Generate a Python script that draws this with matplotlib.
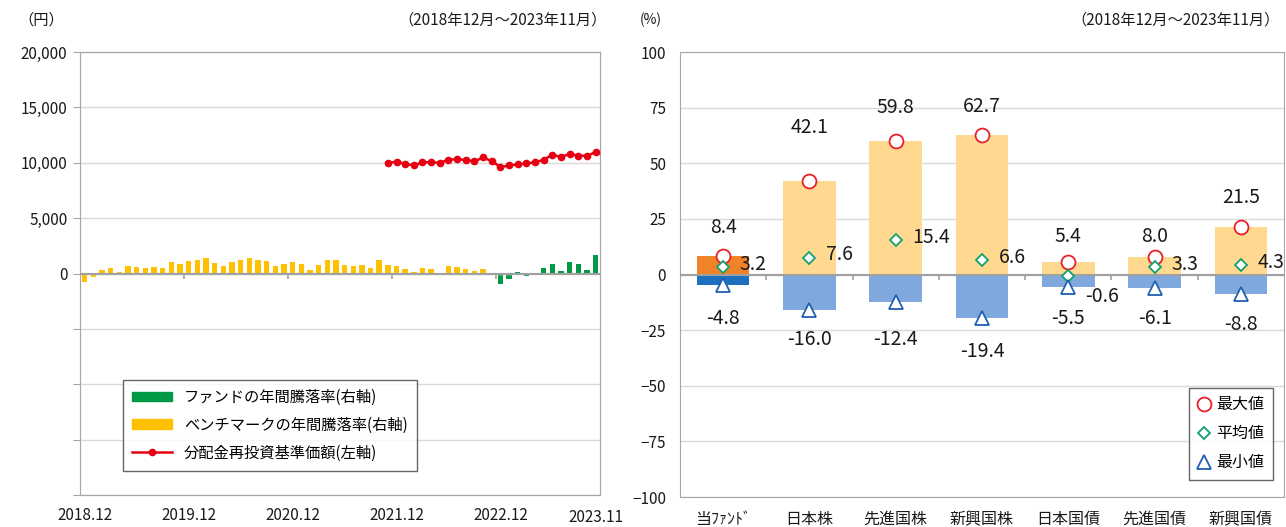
"""
Fund NAV and annual return chart, with return range by asset class
"""

import numpy as np
import matplotlib.pyplot as plt
from matplotlib.patches import Patch
from matplotlib.lines import Line2D
import matplotlib.transforms as mtransforms

plt.rcParams['font.family'] = ['Noto Sans CJK JP', 'DejaVu Sans']

# ---------------------------------------------------------------------------- #
# Data
# ---------------------------------------------------------------------------- #
n_months = 60
month_ticks = [0, 12, 24, 36, 48, 59]
month_labels = ['2018.12', '2019.12', '2020.12', '2021.12', '2022.12', '2023.11']

# benchmark annual return (%), months 0..46
bench_ret = [-3.9, -1.7, 1.8, 2.3, 0.9, 3.6, 3.0, 2.4, 3.0, 2.4,
             5.1, 4.2, 5.6, 6.2, 6.8, 4.8, 3.5, 5.3, 6.2, 6.9,
             5.9, 5.7, 3.5, 4.5, 5.0, 4.2, 1.7, 3.9, 6.0, 5.9,
             3.9, 3.6, 3.8, 2.6, 6.2, 3.9, 3.6, 2.0, 0.9, 2.4,
             2.0, 0.1, 3.5, 2.9, 2.0, 1.1, 2.1]
# fund annual return (%), months 47..59
fund_ret = [0.45, -4.8, -2.3, 0.8, -1.2, -0.7, 2.4, 4.2, 1.2, 5.1, 4.5, 1.4, 8.4]
# NAV with reinvested distributions (yen), months 35..59
nav = [10000, 10090, 9910, 9760, 10030, 10060, 10000, 10270, 10330, 10240,
       10120, 10480, 10150, 9610, 9760, 9850, 9940, 10030, 10270, 10720,
       10510, 10810, 10630, 10630, 10960]

categories = ['当ﾌｧﾝﾄﾞ', '日本株', '先進国株', '新興国株', '日本国債', '先進国債', '新興国債']
max_vals = [8.4, 42.1, 59.8, 62.7, 5.4, 8.0, 21.5]
avg_vals = [3.2, 7.6, 15.4, 6.6, -0.6, 3.3, 4.3]
min_vals = [-4.8, -16.0, -12.4, -19.4, -5.5, -6.1, -8.8]

# label placement (offsets in data units)
max_label_dy = [12.5, 23.8, 15.1, 12.6, 11.5, 9.3, 12.9]
min_label_dy = [-14.8, -13.0, -16.6, -15.4, -14.1, -13.5, -13.5]

# ---------------------------------------------------------------------------- #
# Style
# ---------------------------------------------------------------------------- #
grid_col = '#D9D9D9'
spine_col = '#A6A6A6'
axis_col = '#A0A0A0'
txt_col = '#1A1A1A'
fs_tick = 11
fs_lab = 14

fig = plt.figure(figsize=(12.86, 5.27), dpi=100)
W, H = 1286, 527

# ---------------------------------------------------------------------------- #
# Left chart
# ---------------------------------------------------------------------------- #
ax = fig.add_axes([80 / W, (H - 495) / H, 520 / W, 443 / H])
ax2 = ax.twinx()

months = np.arange(n_months)
ax2.bar(months[:len(bench_ret)], bench_ret, width=0.62, color='#FFC000', zorder=2)
ax2.bar(months[n_months - len(fund_ret):], fund_ret, width=0.62, color='#009A46', zorder=2)
ax2.set_ylim(-100, 100)
ax2.set_yticks([])
for s in ax2.spines.values():
    s.set_color(spine_col)
ax2.vlines([11.5, 23.5, 35.5, 47.5], -2.6, 0, color=axis_col, lw=1.2, zorder=3)

ax.set_zorder(ax2.get_zorder() + 1)
ax.patch.set_visible(False)
ax.plot(months[n_months - len(nav):], nav, color='#E60012', lw=1.8,
        marker='o', markersize=4.5, zorder=4)
ax.set_ylim(-20000, 20000)
ax.set_xlim(-0.55, 59.5)
yt = np.arange(-20000, 20001, 5000)
ax.set_yticks(yt)
ax.set_yticklabels([f'{v:,}' if v >= 0 else '' for v in yt], fontsize=fs_tick, color=txt_col)
ax.yaxis.grid(True, color=grid_col, lw=1)
ax.axhline(0, color=axis_col, lw=1.5, zorder=3)
ax.set_xticks(month_ticks)
ax.set_xticklabels(month_labels, fontsize=fs_tick, color=txt_col)
ax.tick_params(axis='x', length=0, pad=9)
ax.tick_params(axis='y', length=5, color=spine_col, pad=4)
lbl = ax.get_xticklabels()[-1]
lbl.set_transform(lbl.get_transform() + mtransforms.ScaledTranslation(0, -2 / 100, fig.dpi_scale_trans))
for s in ax.spines.values():
    s.set_color(spine_col)

handles = [Patch(color='#009A46'), Patch(color='#FFC000'),
           Line2D([], [], color='#E60012', lw=1.8, marker='o', markersize=4.5)]
leg = ax.legend(handles, ['ファンドの年間騰落率(右軸)', 'ベンチマークの年間騰落率(右軸)',
                          '分配金再投資基準価額(左軸)'],
                loc='lower left', bbox_to_anchor=(0.068, 0.038), fontsize=11,
                frameon=True, fancybox=False, edgecolor='#404040', handlelength=2.6,
                handleheight=0.6, labelspacing=0.7, borderpad=0.6)
leg.get_frame().set_linewidth(1.0)

fig.text(18 / W, 1 - 20 / H, '（円）', fontsize=fs_tick, color=txt_col, va='center')
fig.text(607 / W, 1 - 20 / H, '（2018年12月～2023年11月）', fontsize=fs_tick,
         color=txt_col, va='center', ha='right')

# ---------------------------------------------------------------------------- #
# Right chart
# ---------------------------------------------------------------------------- #
bx = fig.add_axes([680 / W, (H - 497) / H, 604 / W, 445 / H])
x = np.arange(len(categories))
pos_cols = ['#F08228'] + ['#FFD98F'] * (len(categories) - 1)
neg_cols = ['#1F6FBF'] + ['#7FA8DC'] * (len(categories) - 1)
bx.bar(x, max_vals, width=0.61, color=pos_cols, zorder=2)
bx.bar(x, min_vals, width=0.61, color=neg_cols, zorder=2)
bx.plot(x, max_vals, ls='none', marker='o', markersize=10, mfc='white',
        mec='#E8202A', mew=1.3, zorder=4, label='最大値')
bx.plot(x, avg_vals, ls='none', marker='D', markersize=6.5, mfc='white',
        mec='#13A070', mew=1.3, zorder=4, label='平均値')
bx.plot(x, min_vals, ls='none', marker='^', markersize=10, mfc='white',
        mec='#1F5FB4', mew=1.3, zorder=4, label='最小値')

bx.set_xlim(-0.5, len(categories) - 0.5)
bx.set_ylim(-100, 100)
bx.set_yticks(np.arange(-100, 101, 25))
bx.tick_params(axis='y', length=0, labelsize=fs_tick, labelcolor=txt_col, pad=10)
bx.set_xticks(x)
bx.set_xticklabels(categories, fontsize=fs_tick + 0.5, color=txt_col)
bx.tick_params(axis='x', length=0, pad=10)
bx.yaxis.grid(True, color=grid_col, lw=1)
bx.set_axisbelow(True)
bx.axhline(0, color=axis_col, lw=1.5, zorder=3)
bx.vlines(x[:-1] + 0.5, -2.6, 0, color=axis_col, lw=1.2, zorder=3)
for s in bx.spines.values():
    s.set_color(spine_col)

for i in range(len(categories)):
    bx.text(x[i], max_vals[i] + max_label_dy[i], f'{max_vals[i]:.1f}', ha='center',
            va='center', fontsize=fs_lab, color=txt_col)
    bx.text(x[i], min_vals[i] + min_label_dy[i], f'{min_vals[i]:.1f}', ha='center',
            va='center', fontsize=fs_lab, color=txt_col)
    dy = -15 if avg_vals[i] < 0 else 2
    bx.annotate(f'{avg_vals[i]:.1f}', (x[i], avg_vals[i]), xytext=(12, dy),
                textcoords='offset points', ha='left', va='center',
                fontsize=fs_lab, color=txt_col)

leg2 = bx.legend(loc='lower left', bbox_to_anchor=(0.829, 0.02), fontsize=11.5,
                 frameon=True, fancybox=False, edgecolor='#404040', handlelength=0.8,
                 handletextpad=0.4, labelspacing=0.75, borderpad=0.55)
leg2.get_frame().set_linewidth(1.0)

fig.text(640 / W, 1 - 20 / H, '(%)', fontsize=fs_tick - 1, color=txt_col, va='center')
fig.text(1280 / W, 1 - 20 / H, '（2018年12月～2023年11月）', fontsize=fs_tick,
         color=txt_col, va='center', ha='right')

fig.savefig('out.png', dpi=100)
plt.close()
